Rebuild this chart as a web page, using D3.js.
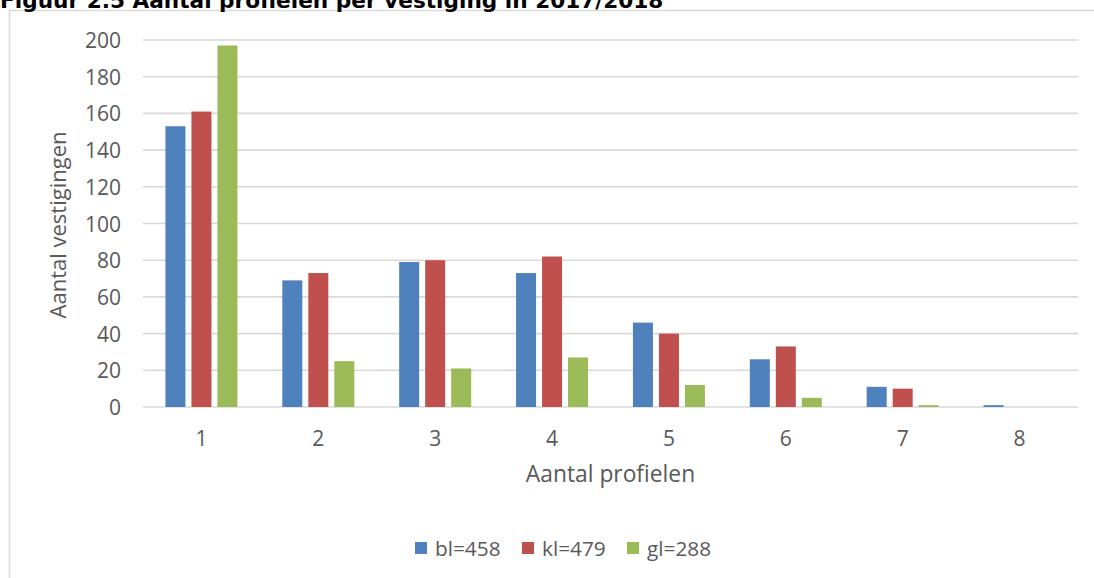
<!DOCTYPE html>
<html>
<head>
<meta charset="utf-8">
<script src="https://cdn.jsdelivr.net/npm/d3@7/dist/d3.min.js"></script>
<style>
  html, body { margin: 0; padding: 0; background: #fff; overflow: hidden; }
  svg { display: block; }
</style>
</head>
<body>
<svg id="chart" width="1094" height="578"></svg>
<script>
// ---- data ----
const categories = ["1", "2", "3", "4", "5", "6", "7", "8"];
const seriesNames = ["bl=458", "kl=479", "gl=288"];
const blValues = [153, 69, 79, 73, 46, 26, 11, 1];
const klValues = [161, 73, 80, 82, 40, 33, 10, 0];
const glValues = [197, 25, 21, 27, 12, 5, 1, 0];
const seriesColors = ["#4F81BD", "#C0504D", "#9BBB59"];
const yTicks = [0, 20, 40, 60, 80, 100, 120, 140, 160, 180, 200];
const titleText = "Figuur 2.5 Aantal profielen per vestiging in 2017/2018";
const xAxisTitle = "Aantal profielen";
const yAxisTitle = "Aantal vestigingen";

const seriesValues = [blValues, klValues, glValues];

const svg = d3.select("#chart");
const textColor = "#595959";
const font = "'Open Sans', sans-serif";

// frame
svg.append("rect")
  .attr("x", 9.5).attr("y", 10.5)
  .attr("width", 1200).attr("height", 700)
  .attr("fill", "#fff")
  .attr("stroke", "#D9D9D9").attr("stroke-width", 1.5);

// title (partially cut off at top, as in the source figure)
const title = svg.append("text")
  .attr("x", 0).attr("y", 7.5)
  .attr("font-family", "'DejaVu Sans', Verdana, sans-serif")
  .attr("font-weight", "bold")
  .attr("font-size", 100)
  .attr("fill", "#000")
  .text(titleText);
const tl = title.node().getComputedTextLength();
title.attr("font-size", 100 * 664 / tl);

// scales
const x0 = d3.scaleBand().domain(categories).range([143, 1078]).padding(0);
const x1 = d3.scaleBand().domain(seriesNames).range([-39, 39])
  .paddingInner(6 / 26).paddingOuter(3 / 26);
const y = d3.scaleLinear().domain([0, 200]).range([407, 40]);

// gridlines
svg.append("g").selectAll("line").data(yTicks).join("line")
  .attr("x1", 143).attr("x2", 1078)
  .attr("y1", d => y(d)).attr("y2", d => y(d))
  .attr("stroke", "#D9D9D9").attr("stroke-width", 1.6);

// y axis labels
const yAxis = d3.axisLeft(y).tickValues(yTicks).tickSize(0).tickPadding(0);
const yG = svg.append("g").attr("transform", "translate(121,0)").call(yAxis);
yG.select(".domain").remove();
yG.selectAll("text")
  .attr("font-family", font).attr("font-size", 21).attr("fill", textColor)
  .attr("dy", "0.36em");

// x axis labels
const xAxis = d3.axisBottom(x0).tickSize(0).tickPadding(0);
const xG = svg.append("g").attr("transform", "translate(0,446)").call(xAxis);
xG.select(".domain").remove();
xG.selectAll("text")
  .attr("font-family", font).attr("font-size", 21).attr("fill", textColor)
  .attr("dy", 0);

// bars
const groups = svg.append("g").selectAll("g").data(categories).join("g")
  .attr("transform", d => `translate(${x0(d) + x0.bandwidth() / 2},0)`);
groups.selectAll("rect")
  .data((c, i) => seriesNames.map((s, j) => ({ s, j, v: seriesValues[j][i] })))
  .join("rect")
  .attr("x", d => x1(d.s))
  .attr("width", x1.bandwidth())
  .attr("y", d => y(d.v))
  .attr("height", d => y(0) - y(d.v))
  .attr("fill", d => seriesColors[d.j]);

// axis titles
svg.append("text")
  .attr("x", 610.5).attr("y", 482)
  .attr("text-anchor", "middle")
  .attr("font-family", font).attr("font-size", 22.8).attr("fill", textColor)
  .text(xAxisTitle);

svg.append("text")
  .attr("transform", "translate(66,225) rotate(-90)")
  .attr("text-anchor", "middle")
  .attr("font-family", font).attr("font-size", 22).attr("fill", textColor)
  .text(yAxisTitle);

// legend
const legendX = [415, 522, 627];
const legend = svg.append("g").selectAll("g").data(seriesNames).join("g")
  .attr("transform", (d, i) => `translate(${legendX[i]},0)`);
legend.append("rect")
  .attr("x", 0).attr("y", 542).attr("width", 12).attr("height", 12)
  .attr("fill", (d, i) => seriesColors[i]);
legend.append("text")
  .attr("x", 20).attr("y", 555.5)
  .attr("font-family", font).attr("font-size", 20.8).attr("fill", textColor)
  .text(d => d);
</script>
</body>
</html>
